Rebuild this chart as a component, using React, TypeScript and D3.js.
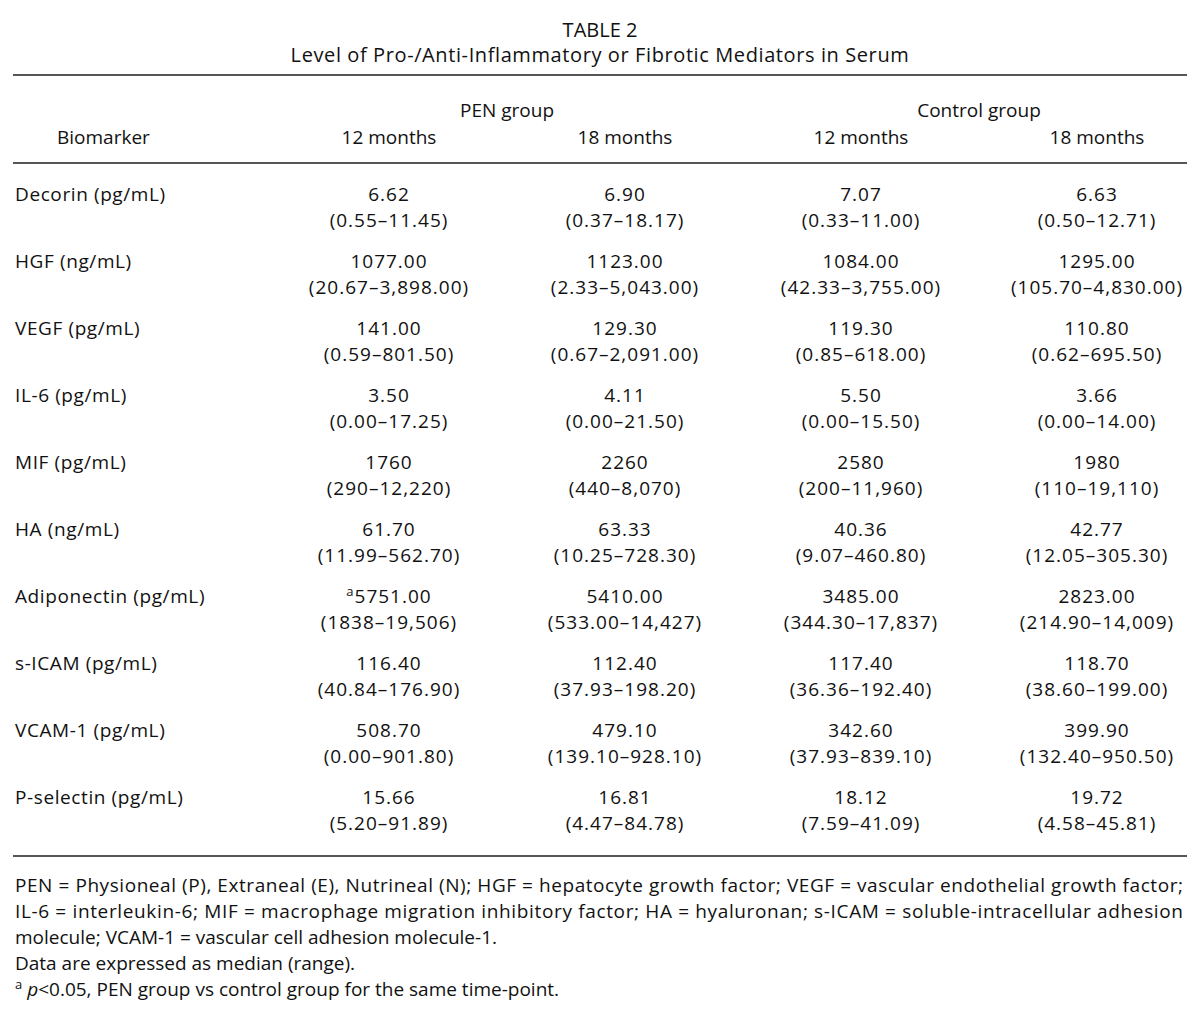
import React from "react";
import * as d3 from "d3";

const title = "TABLE 2";
const subtitle = "Level of Pro-/Anti-Inflammatory or Fibrotic Mediators in Serum";
const groups = ["PEN group", "Control group"];
const timepoints = ["12 months", "18 months", "12 months", "18 months"];
const columnKeys = ["pen12", "pen18", "ctl12", "ctl18"];

const biomarkers = [
  "Decorin (pg/mL)",
  "HGF (ng/mL)",
  "VEGF (pg/mL)",
  "IL-6 (pg/mL)",
  "MIF (pg/mL)",
  "HA (ng/mL)",
  "Adiponectin (pg/mL)",
  "s-ICAM (pg/mL)",
  "VCAM-1 (pg/mL)",
  "P-selectin (pg/mL)",
];

const pen12Median = ["6.62", "1077.00", "141.00", "3.50", "1760", "61.70", "5751.00", "116.40", "508.70", "15.66"];
const pen12Range = ["0.55–11.45", "20.67–3,898.00", "0.59–801.50", "0.00–17.25", "290–12,220", "11.99–562.70", "1838–19,506", "40.84–176.90", "0.00–901.80", "5.20–91.89"];
const pen18Median = ["6.90", "1123.00", "129.30", "4.11", "2260", "63.33", "5410.00", "112.40", "479.10", "16.81"];
const pen18Range = ["0.37–18.17", "2.33–5,043.00", "0.67–2,091.00", "0.00–21.50", "440–8,070", "10.25–728.30", "533.00–14,427", "37.93–198.20", "139.10–928.10", "4.47–84.78"];
const ctl12Median = ["7.07", "1084.00", "119.30", "5.50", "2580", "40.36", "3485.00", "117.40", "342.60", "18.12"];
const ctl12Range = ["0.33–11.00", "42.33–3,755.00", "0.85–618.00", "0.00–15.50", "200–11,960", "9.07–460.80", "344.30–17,837", "36.36–192.40", "37.93–839.10", "7.59–41.09"];
const ctl18Median = ["6.63", "1295.00", "110.80", "3.66", "1980", "42.77", "2823.00", "118.70", "399.90", "19.72"];
const ctl18Range = ["0.50–12.71", "105.70–4,830.00", "0.62–695.50", "0.00–14.00", "110–19,110", "12.05–305.30", "214.90–14,009", "38.60–199.00", "132.40–950.50", "4.58–45.81"];

// superscript marks: [column, row index, mark]
const significanceMarks: [string, number, string][] = [["pen12", 6, "a"]];

const footnoteLines = [
  "PEN = Physioneal (P), Extraneal (E), Nutrineal (N); HGF = hepatocyte growth factor; VEGF = vascular endothelial growth factor;",
  "IL-6 = interleukin-6; MIF = macrophage migration inhibitory factor; HA = hyaluronan; s-ICAM = soluble-intracellular adhesion",
  "molecule; VCAM-1 = vascular cell adhesion molecule-1.",
  "Data are expressed as median (range).",
];
const pFootnote = ", PEN group vs control group for the same time-point.";

const W = 1200;
const H = 1020;
const FONT = "'Open Sans', sans-serif";
const FS = 19;

export default function App() {
  const medians: Record<string, string[]> = {
    pen12: pen12Median,
    pen18: pen18Median,
    ctl12: ctl12Median,
    ctl18: ctl18Median,
  };
  const ranges: Record<string, string[]> = {
    pen12: pen12Range,
    pen18: pen18Range,
    ctl12: ctl12Range,
    ctl18: ctl18Range,
  };

  const x = d3.scalePoint<string>().domain(columnKeys).range([389, 1097]);
  const y = d3.scalePoint<string>().domain(biomarkers).range([201, 804]);
  const rangeOffset = 26;
  const groupX = (g: number) => ((x(columnKeys[g * 2]) as number) + (x(columnKeys[g * 2 + 1]) as number)) / 2;

  const ruleColor = "#555";
  const left = 13;
  const right = 1187;
  const footY = d3.scaleLinear().domain([0, 4]).range([892, 996]);
  const numSpacing = 1;

  return (
    <svg
      width={W}
      height={H}
      style={{ position: "absolute", left: 0, top: 0, background: "#fff" }}
      fontFamily={FONT}
      fontSize={FS}
      fill="#111"
    >
      <rect x={0} y={0} width={W} height={H} fill="#fff" />
      <text x={W / 2} y={37} textAnchor="middle" fontSize={20}>{title}</text>
      <text x={W / 2} y={62} textAnchor="middle" fontSize={20} letterSpacing={0.6}>{subtitle}</text>

      <line x1={left} x2={right} y1={75} y2={75} stroke={ruleColor} strokeWidth={1.8} />

      {groups.map((g, i) => (
        <text key={g} x={groupX(i)} y={117} textAnchor="middle">{g}</text>
      ))}
      <text x={57} y={144}>Biomarker</text>
      {timepoints.map((t, i) => (
        <text key={i} x={x(columnKeys[i])} y={144} textAnchor="middle">{t}</text>
      ))}

      <line x1={left} x2={right} y1={163} y2={163} stroke={ruleColor} strokeWidth={1.8} />

      {biomarkers.map((b) => (
        <text key={b} x={15} y={y(b)} letterSpacing={0.6}>{b}</text>
      ))}

      {columnKeys.map((c) =>
        biomarkers.map((b, r) => {
          const mark = significanceMarks.find((m) => m[0] === c && m[1] === r);
          return (
            <g key={c + r} letterSpacing={numSpacing}>
              <text x={x(c)} y={y(b)} textAnchor="middle">
                {mark ? (
                  <tspan fontSize={13} dy={-7}>{mark[2]}</tspan>
                ) : null}
                {mark ? <tspan dy={7}>{medians[c][r]}</tspan> : medians[c][r]}
              </text>
              <text x={x(c)} y={(y(b) as number) + rangeOffset} textAnchor="middle">
                ({ranges[c][r]})
              </text>
            </g>
          );
        })
      )}

      <line x1={left} x2={right} y1={856} y2={856} stroke={ruleColor} strokeWidth={1.8} />

      {footnoteLines.map((l, i) => (
        <text
          key={i}
          x={15}
          y={footY(i)}
          {...(i < 2 ? { textLength: 1168, lengthAdjust: "spacing" } : {})}
        >
          {l}
        </text>
      ))}
      <text x={15} y={footY(4)}>
        <tspan fontSize={13} dy={-7}>a</tspan>
        <tspan dy={7}> </tspan>
        <tspan fontStyle="italic">p</tspan>
        <tspan>&lt;0.05{pFootnote}</tspan>
      </text>
    </svg>
  );
}
